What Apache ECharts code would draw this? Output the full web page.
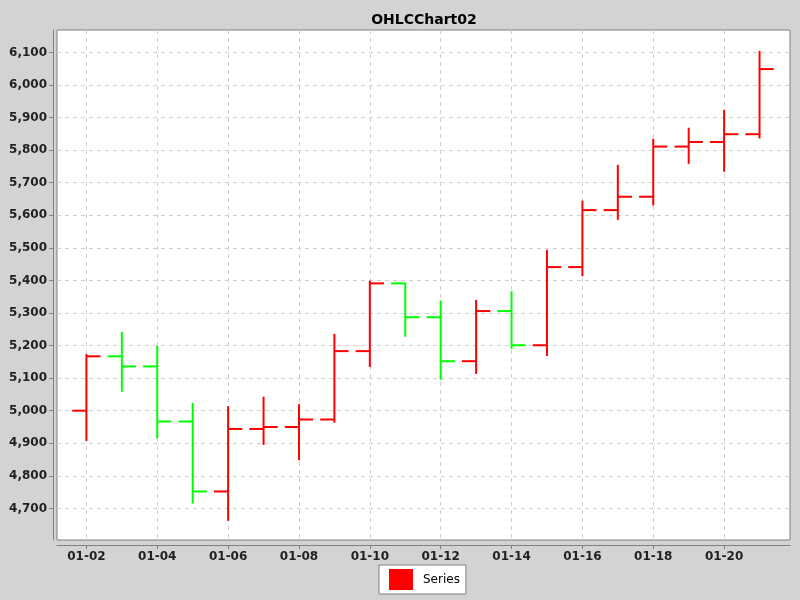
<!DOCTYPE html>
<html>
<head>
<meta charset="utf-8">
<script src="https://cdn.jsdelivr.net/npm/echarts@6/dist/echarts.min.js"></script>
<style>
html,body{margin:0;padding:0;background:#d3d3d3;}
#chart{width:800px;height:600px;}
</style>
</head>
<body>
<div id="chart"></div>
<script>
// Data
var dayLabels = ['01-02','01-03','01-04','01-05','01-06','01-07','01-08','01-09','01-10','01-11',
                 '01-12','01-13','01-14','01-15','01-16','01-17','01-18','01-19','01-20','01-21'];
var days  = [2,3,4,5,6,7,8,9,10,11,12,13,14,15,16,17,18,19,20,21];
var open  = [5000,5167,5136,4967,4752,4944,4950,4973,5183,5391,5287,5152,5306,5201,5441,5616,5657,5811,5825,5849];
var high  = [5174,5242,5199,5024,5014,5043,5020,5236,5399,5393,5338,5340,5367,5494,5645,5755,5835,5869,5924,6105];
var low   = [4907,5058,4915,4715,4662,4895,4848,4963,5134,5227,5095,5113,5190,5168,5413,5586,5630,5758,5734,5836];
var close = [5167,5136,4967,4752,4944,4950,4973,5183,5391,5287,5152,5306,5201,5441,5616,5657,5811,5825,5849,6049];
var xTickDays = [2,4,6,8,10,12,14,16,18,20];
var yTicks = [4700,4800,4900,5000,5100,5200,5300,5400,5500,5600,5700,5800,5900,6000,6100];
var seriesName = 'Series';

var data = days.map(function (d, i) { return [d, open[i], high[i], low[i], close[i]]; });
var labelByDay = {};
days.forEach(function (d, i) { labelByDay[d] = dayLabels[i]; });

var UP = '#ff0000', DOWN = '#00ff00';
var font = 'DejaVu Sans, Verdana, sans-serif';

function renderItem(params, api) {
  var x = api.value(0), o = api.value(1), h = api.value(2), l = api.value(3), c = api.value(4);
  var pH = api.coord([x, h]), pL = api.coord([x, l]), pO = api.coord([x, o]), pC = api.coord([x, c]);
  var w = api.size([1, 0])[0] * 0.4;
  var col = c > o ? UP : DOWN;
  var st = { stroke: col, lineWidth: 2, lineCap: 'butt' };
  return {
    type: 'group',
    children: [
      { type: 'line', shape: { x1: pH[0], y1: pH[1], x2: pL[0], y2: pL[1] }, style: st },
      { type: 'line', shape: { x1: pO[0] - w, y1: pO[1], x2: pO[0], y2: pO[1] }, style: st },
      { type: 'line', shape: { x1: pC[0], y1: pC[1], x2: pC[0] + w, y2: pC[1] }, style: st }
    ]
  };
}

var gridLine = { show: true, lineStyle: { color: '#d0d0d0', type: [4, 4], width: 1 } };

var chart = echarts.init(document.getElementById('chart'));
chart.setOption({
  backgroundColor: '#d3d3d3',
  animation: false,
  title: {
    text: 'OHLCChart02',
    left: 424, top: 13, textAlign: 'center', padding: 0,
    textStyle: { fontFamily: font, fontSize: 14, fontWeight: 'bold', color: '#000' }
  },
  legend: {
    data: [seriesName],
    left: 379, top: 565,
    padding: [4, 6, 4, 10],
    backgroundColor: '#fff', borderColor: '#808080', borderWidth: 1, borderRadius: 0,
    itemWidth: 24, itemHeight: 21, icon: 'rect',
    textStyle: { fontFamily: font, fontSize: 12, color: '#000', padding: [0, 0, 0, 5] }
  },
  grid: {
    left: 57, right: 10, top: 30, bottom: 60,
    show: true, backgroundColor: '#ffffff', borderColor: '#808080', borderWidth: 1
  },
  xAxis: {
    type: 'value', min: 1.17, max: 21.86, offset: 5,
    axisLine: { show: true, lineStyle: { color: '#808080', width: 1 } },
    axisTick: { show: true, length: 4, customValues: xTickDays, lineStyle: { color: '#808080' } },
    axisLabel: {
      customValues: xTickDays, margin: 6,
      fontFamily: font, fontSize: 12, fontWeight: 'bold', color: '#222',
      formatter: function (v) { return labelByDay[v] || ''; }
    },
    splitLine: gridLine
  },
  yAxis: {
    type: 'value', min: 4603, max: 6169, offset: 4,
    axisLine: { show: true, lineStyle: { color: '#808080', width: 1 } },
    axisTick: { show: true, length: 4, customValues: yTicks, lineStyle: { color: '#808080' } },
    axisLabel: {
      customValues: yTicks, margin: 6,
      fontFamily: font, fontSize: 12, fontWeight: 'bold', color: '#222',
      formatter: function (v) { return v.toLocaleString('en-US'); }
    },
    splitLine: gridLine
  },
  series: [{
    name: seriesName,
    type: 'custom',
    renderItem: renderItem,
    itemStyle: { color: UP },
    encode: { x: 0, y: [1, 2, 3, 4] },
    clip: true,
    data: data
  }]
});
</script>
</body>
</html>
